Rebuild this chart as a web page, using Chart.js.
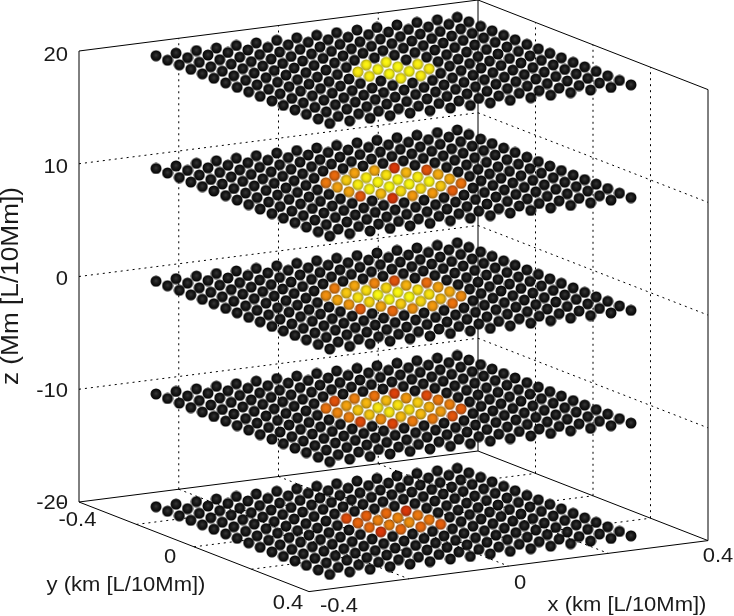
<!DOCTYPE html>
<html>
<head>
<meta charset="utf-8">
<script src="https://cdn.jsdelivr.net/npm/chart.js@4/dist/chart.umd.min.js"></script>
<style>
  html,body{margin:0;padding:0;background:#fff;}
  canvas{display:block;}
</style>
</head>
<body>
<canvas id="c" width="734" height="616"></canvas>
<script>
/* data */
const gridVals = [-0.302,-0.262,-0.221,-0.181,-0.141,-0.101,-0.060,-0.020,0.020,0.060,0.101,0.141,0.181,0.221,0.262,0.302];
const layerZ   = [20,10,0,-10,-20];

const xTicks = [-0.4,-0.2,0,0.2,0.4];
const yTicks = [-0.4,-0.2,0,0.2,0.4];
const zTicks = [-20,-10,0,10,20];
const zLabels = ['-20','-10','0','10','20'];

/* heat per layer, cells for j = first row up, i = first col across; null = stays black */
const hotStart = [6,5,5,5,6];   // first grid index of each patch
const heat20 = [
  [null,.96,.98,null],
  [.94,1,1,.96],
  [.96,1,1,.94],
  [null,.96,.95,null]
];
const heat10 = [
  [null,.30,.60,.65,.05,null],
  [.38,.80,.95,.90,.70,.20],
  [.60,.95,1,1,.95,.65],
  [.62,.98,1,1,.98,.65],
  [.22,.72,.88,.88,.78,.35],
  [null,.05,.55,.55,.25,null]
];
const heat0 = [
  [null,.40,.62,.45,.20,null],
  [.50,.78,.88,.85,.68,.32],
  [.62,.90,1,1,.90,.60],
  [.55,.85,1,1,.90,.65],
  [.25,.62,.80,.85,.72,.48],
  [null,.30,.52,.55,.35,null]
];
const heatM10 = [
  [null,.18,.42,.35,.10,null],
  [.35,.60,.70,.72,.55,.15],
  [.45,.78,.92,.90,.80,.38],
  [.42,.78,.92,.88,.68,.42],
  [.15,.50,.72,.72,.58,.25],
  [null,.12,.40,.40,.20,null]
];
const heatM20 = [
  [.15,.25,.30,.05],
  [.28,.42,.45,.38],
  [.30,.42,.50,.38],
  [.05,.30,.30,.25]
];
const layerHeat = [heat20,heat10,heat0,heatM10,heatM20];

/* oblique view of the box */
function px(x,y){ return 79 + (x+0.4)*498.75 + (y+0.4)*287.5; }
function py(x,y,z){ return 502 - (x+0.4)*63.75 + (y+0.4)*112 - (z+20)*11.275; }
const P = (x,y,z) => ({x:px(x,y), y:py(x,y,z)});

const RAMP = [[206,44,8],[226,108,14],[236,168,16],[244,240,18]];
function heatColor(v){
  const t = Math.min(0.999,v)*(RAMP.length-1), k = Math.floor(t), f = t-k;
  return RAMP[k].map((c,n)=>Math.round(c+(RAMP[k+1][n]-c)*f));
}

/* one small shaded ball */
function sprite(stops){
  const R = 5.5, S = 12, cv = document.createElement('canvas');
  cv.width = S; cv.height = S;
  const g = cv.getContext('2d');
  const grad = g.createRadialGradient(S/2,S/2-.6,0,S/2,S/2,R);
  stops.forEach(([o,c])=>grad.addColorStop(o,c));
  g.fillStyle = grad;
  g.beginPath(); g.arc(S/2,S/2,R,0,Math.PI*2); g.fill();
  return cv;
}
function ball(rgb){
  const shade = f => `rgb(${rgb.map(c=>Math.min(255,Math.round(c*f))).join(',')})`;
  return sprite([[0,shade(1.08)],[.5,shade(1)],[.82,shade(.82)],[1,shade(.6)]]);
}
const BLACK = sprite([[0,'#3c3c3c'],[.35,'#222'],[.75,'#0e0e0e'],[1,'#000']]);

const datasets = [];

/* balls */
layerZ.forEach((z,l)=>{
  const heat = layerHeat[l], start = hotStart[l];
  const pts = [], styles = [];
  gridVals.forEach((yv,j)=>{
    for(let i=gridVals.length-1;i>=0;i--){
      pts.push(P(gridVals[i],yv,z));
      const row = heat[j-start];
      const v = row ? row[i-start] : undefined;
      styles.push(v===undefined||v===null ? BLACK : ball(heatColor(v)));
    }
  });
  datasets.push({data:pts, showLine:false, pointStyle:styles, pointRadius:6, order:1});
});

/* box and grid */
const solid = (a,b) => datasets.push({data:[a,b],showLine:true,pointRadius:0,borderColor:'#000',borderWidth:1,order:2});
const dotted = (a,b) => datasets.push({data:[a,b],showLine:true,pointRadius:0,borderColor:'#000',borderWidth:1,borderDash:[2,4],order:3});

const x0=xTicks[0], x1=xTicks[4], y0=yTicks[0], y1=yTicks[4], z0=zTicks[0], z1=zTicks[4];
xTicks.slice(1,4).forEach(x=>{
  dotted(P(x,y0,z0),P(x,y0,z1));
  dotted(P(x,y0,z0),P(x,y1,z0));
});
yTicks.slice(1,4).forEach(y=>{
  dotted(P(x1,y,z0),P(x1,y,z1));
  dotted(P(x0,y,z0),P(x1,y,z0));
});
zTicks.slice(1,4).forEach(z=>{
  dotted(P(x0,y0,z),P(x1,y0,z));
  dotted(P(x1,y0,z),P(x1,y1,z));
});
solid(P(x0,y0,z0),P(x0,y0,z1));
solid(P(x1,y0,z0),P(x1,y0,z1));
solid(P(x1,y1,z0),P(x1,y1,z1));
solid(P(x0,y0,z1),P(x1,y0,z1));
solid(P(x1,y0,z1),P(x1,y1,z1));
solid(P(x0,y0,z0),P(x1,y0,z0));
solid(P(x1,y0,z0),P(x1,y1,z0));
solid(P(x0,y0,z0),P(x0,y1,z0));
solid(P(x0,y1,z0),P(x1,y1,z0));

/* tick labels and axis titles; the source text is a little wider than the font */
const labelsPlugin = {
  id:'labels3d',
  afterDraw(chart){
    const {ctx, scales:{x:sx,y:sy}} = chart;
    const put = (t,xp,yp,align) => {
      ctx.save();
      ctx.translate(sx.getPixelForValue(xp),sy.getPixelForValue(yp));
      ctx.scale(1.1,1);
      ctx.textAlign=align||'center';
      ctx.fillText(t,0,0);
      ctx.restore();
    };
    ctx.save();
    ctx.fillStyle='#1a1a1a';
    ctx.textBaseline='middle';
    ctx.font='20px "Liberation Sans"';
    zTicks.forEach((z,n)=>put(zLabels[n],68,55+(20-z)*11.2,'right'));
    put('-',65,503,'right');
    put('-0.4',77.5,520);
    put('0',170,557);
    put('0.4',288,603);
    put('-0.4',339,606);
    put('0',520,583);
    put('0.4',718,556);
    put('y (km [L/10Mm])',126,585);
    put('x (km [L/10Mm])',627,605);
    ctx.translate(sx.getPixelForValue(12),sy.getPixelForValue(286));
    ctx.rotate(-Math.PI/2);
    ctx.scale(1.14,1);
    ctx.font='23px "Liberation Sans"';
    ctx.textAlign='center';
    ctx.fillText('z (Mm [L/10Mm])',0,0);
    ctx.restore();
  }
};

new Chart(document.getElementById('c'),{
  type:'scatter',
  data:{datasets},
  plugins:[labelsPlugin],
  options:{
    responsive:false, animation:false, devicePixelRatio:1, events:[],
    layout:{autoPadding:false,padding:0}, clip:false,
    plugins:{legend:{display:false},tooltip:{enabled:false}},
    scales:{
      x:{type:'linear',min:0,max:734,display:false},
      y:{type:'linear',min:0,max:616,reverse:true,display:false}
    }
  }
});
</script>
</body>
</html>
